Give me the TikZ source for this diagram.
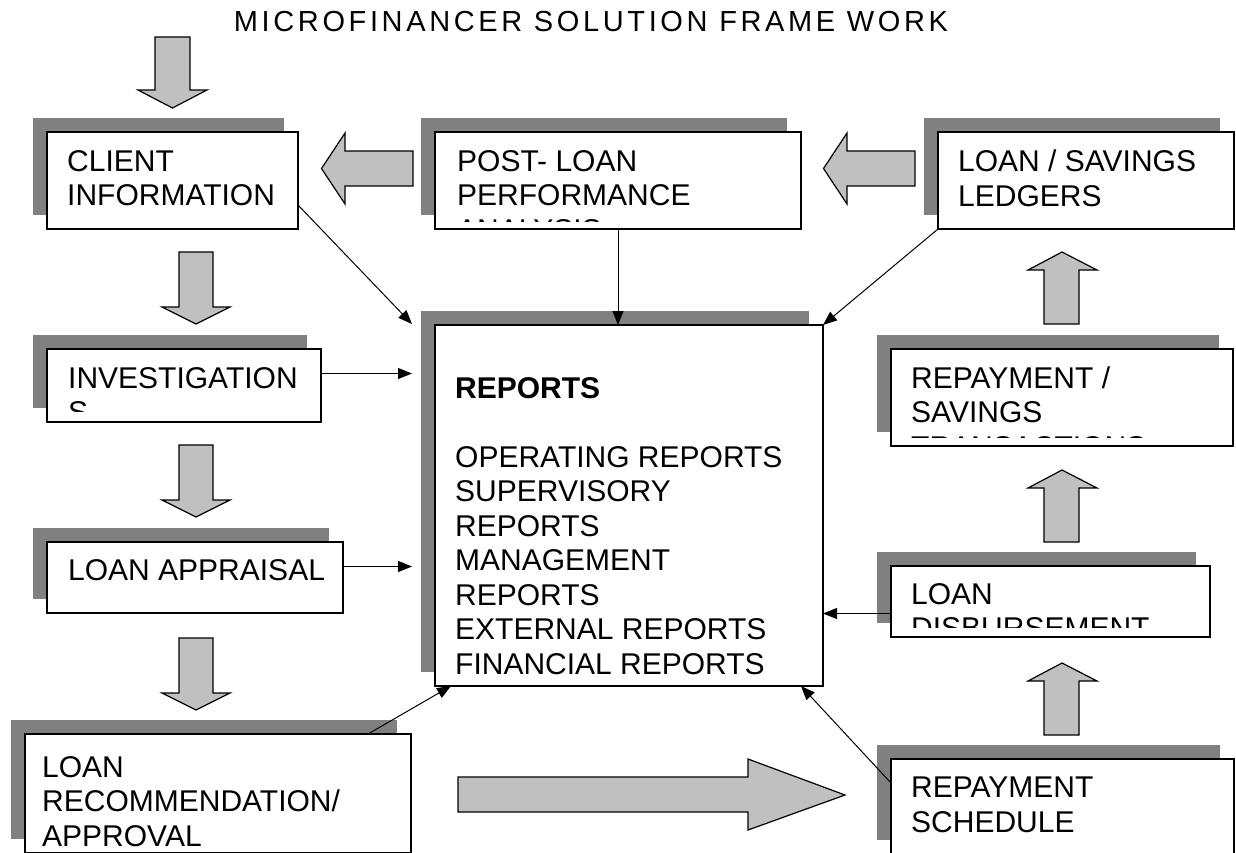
\documentclass[tikz,border=0pt]{standalone}
\usepackage{fontspec}
\setmainfont{Liberation Sans}
\newfontfamily\titlefont[LetterSpace=12.5]{Liberation Sans}
\usetikzlibrary{calc,shadows,arrows.meta}
\definecolor{shadowgray}{HTML}{808080}
\definecolor{arrowgray}{HTML}{C0C0C0}

\begin{document}
\begin{tikzpicture}[x=1pt,y=-1pt,
    card/.style={draw,line width=1.4pt,fill=white,anchor=north west,inner sep=0pt,outer sep=0pt,
      general shadow={fill=shadowgray,shadow xshift=-14pt,shadow yshift=14pt}},
    txt/.style={anchor=north west,align=left,inner sep=0pt,font=\fontsize{30}{34.5}\selectfont},
    blockarrow/.style={draw,line width=1.2pt,fill=arrowgray},
    link/.style={-{Triangle[length=14pt,width=11pt]},line width=1pt}]
  \useasboundingbox (0,0) rectangle (1236,852);

  \node[anchor=base,font=\titlefont\fontsize{29}{34}\selectfont] (title) at (591,31)
    {MICROFINANCER SOLUTION FRAME WORK};

  % boxes
  \node[card,minimum width=251pt,minimum height=97pt] (client) at (47,132) {};
  \node[card,minimum width=366pt,minimum height=97pt] (postloan) at (435,132) {};
  \node[card,minimum width=296pt,minimum height=97pt] (ledgers) at (938,132) {};
  \node[card,minimum width=274pt,minimum height=73pt] (investigation) at (47,349) {};
  \node[card,minimum width=388pt,minimum height=361pt] (reports) at (435,325) {};
  \node[card,minimum width=296pt,minimum height=71pt] (appraisal) at (47,542) {};
  \node[card,minimum width=386pt,minimum height=119pt] (approval) at (25,734) {};
  \node[card,minimum width=342pt,minimum height=97pt] (repayments) at (891,349) {};
  \node[card,minimum width=319pt,minimum height=71pt] (disbursement) at (891,566) {};
  \node[card,minimum width=343pt,minimum height=95pt] (schedule) at (891,759) {};

  % box texts
  \node[txt] (clienttxt) at ($(client.north west)+(20,18)$) {CLIENT\\INFORMATION};
  \node[txt] (ledgerstxt) at ($(ledgers.north west)+(20,18)$) {LOAN / SAVINGS\\LEDGERS};
  \node[txt] (appraisaltxt) at ($(appraisal.north west)+(21,17)$) {LOAN APPRAISAL};
  \node[txt] (approvaltxt) at ($(approval.north west)+(17,22)$) {LOAN\\RECOMMENDATION/\\APPROVAL};
  \node[txt] (scheduletxt) at ($(schedule.north west)+(20,18)$) {REPAYMENT\\SCHEDULE};
  \node[txt] (reportstxt) at ($(reports.north west)+(20,52)$)
    {\textbf{REPORTS}\\[34.5pt]OPERATING REPORTS\\SUPERVISORY\\REPORTS\\MANAGEMENT\\REPORTS\\EXTERNAL REPORTS\\FINANCIAL REPORTS};
  \begin{scope}
    \clip (postloan.north west) rectangle ($(postloan.south east)+(0,-8)$);
    \node[txt] (postloantxt) at ($(postloan.north west)+(22,18)$) {POST- LOAN\\PERFORMANCE\\ANALYSIS};
  \end{scope}
  \begin{scope}
    \clip (investigation.north west) rectangle ($(investigation.south east)+(0,-11)$);
    \node[txt] (investigationtxt) at ($(investigation.north west)+(21,18)$) {INVESTIGATION\\S};
  \end{scope}
  \begin{scope}
    \clip (repayments.north west) rectangle ($(repayments.south east)+(0,-9)$);
    \node[txt] (repaymentstxt) at ($(repayments.north west)+(20,17.5)$) {REPAYMENT /\\SAVINGS\\TRANSACTIONS};
  \end{scope}
  \begin{scope}
    \clip (disbursement.north west) rectangle ($(disbursement.south east)+(0,-10)$);
    \node[txt] (disbursementtxt) at ($(disbursement.north west)+(20,17)$) {LOAN\\DISBURSEMENT};
  \end{scope}

  % flow arrows
  \draw[blockarrow] (155,37) -- (190,37) -- (190,90) -- (207,90) -- (172.5,108) -- (138,90) -- (155,90) -- cycle;
  \foreach \y in {252,445,638}
    \draw[blockarrow] (179,\y) -- (213,\y) -- (213,\y+55) -- (230,\y+55) -- (196,\y+72)
      -- (162,\y+55) -- (179,\y+55) -- cycle;
  \foreach \y in {324,542,735}
    \draw[blockarrow] (1044,\y) -- (1044,\y-54) -- (1028,\y-54) -- (1062,\y-72)
      -- (1097,\y-54) -- (1079,\y-54) -- (1079,\y) -- cycle;
  \foreach \x in {413,915}
    \draw[blockarrow] (\x,151) -- (\x-68,151) -- (\x-68,133) -- (\x-91.5,168.5) -- (\x-68,204)
      -- (\x-68,186) -- (\x,186) -- cycle;
  \draw[blockarrow] (458,777) -- (748,777) -- (748,759) -- (845,795) -- (748,830) -- (748,812) -- (458,812) -- cycle;

  % links into reports
  \coordinate (inv) at ($(investigation.east)+(0,-12)$);
  \coordinate (app) at ($(appraisal.east)+(0,-11)$);
  \coordinate (dis) at ($(disbursement.west)+(0,12)$);
  \draw[link] ($(client.south east)+(0,-24)$) -- ($(reports.north west)+(-23,-1)$);
  \draw[link] (postloan.south) -- (postloan.south |- reports.north);
  \draw[link] (ledgers.south west) -- (reports.north east);
  \draw[link,shorten >=23pt] (inv) -- (inv -| reports.west);
  \draw[link,shorten >=23pt] (app) -- (app -| reports.west);
  \draw[link] (dis) -- (dis -| reports.east);
  \draw[link] ($(schedule.north west)+(0,24)$) -- ($(reports.south east)+(-22,0)$);
  \draw[link] ($(approval.north east)+(-43,0)$) -- ($(reports.south west)+(16,0)$);
\end{tikzpicture}
\end{document}
